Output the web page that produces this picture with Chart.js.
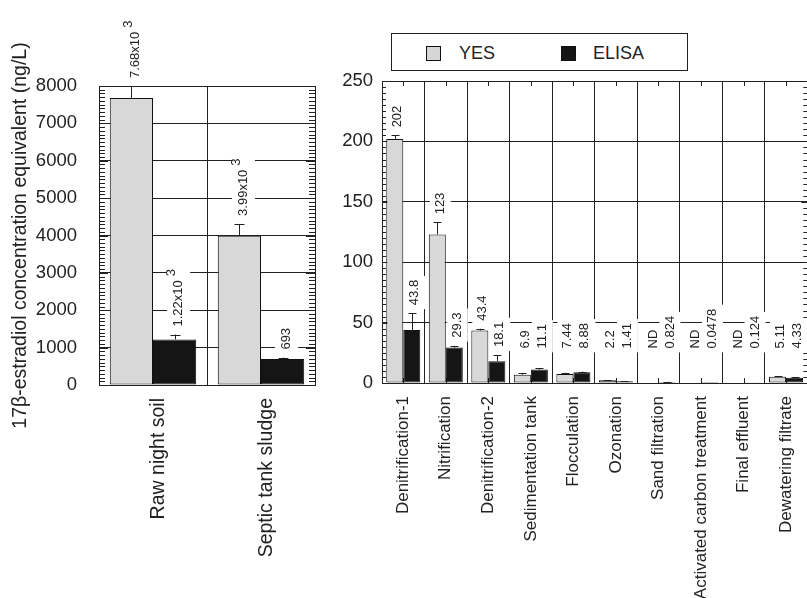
<!DOCTYPE html>
<html>
<head>
<meta charset="utf-8">
<script src="https://cdn.jsdelivr.net/npm/chart.js@4.4.1/dist/chart.umd.min.js"></script>
<style>
html,body{margin:0;padding:0;background:#fff;overflow:hidden;width:807px;height:598px;position:relative;}
#cl{position:absolute;left:0;top:0;}
#cr{position:absolute;left:330px;top:0;}
#legend{position:absolute;left:391px;top:33px;width:297px;height:38px;border:1.5px solid #222;box-sizing:border-box;font-family:"Liberation Sans",Arial,sans-serif;font-size:18px;color:#222;background:#fff;}
#legend .sw{position:absolute;top:12px;width:15px;height:15px;border:1px solid #111;box-sizing:border-box;}
#legend .lt{position:absolute;top:8px;line-height:22px;}
</style>
</head>
<body>
<canvas id="cl" width="330" height="598"></canvas>
<canvas id="cr" width="490" height="598"></canvas>
<div id="legend">
  <span class="sw" style="left:34px;background:#d6d6d6"></span><span class="lt" style="left:67px">YES</span>
  <span class="sw" style="left:169px;background:#151515"></span><span class="lt" style="left:201px">ELISA</span>
</div>
<script>
// ---------- data ----------
const seriesNames = ["YES", "ELISA"];

const leftCategories = ["Raw night soil", "Septic tank sludge"];
const leftYes = [7680, 3990];
const leftElisa = [1220, 693];
const leftYesErr = [320, 320];
const leftElisaErr = [130, 40];
const leftYesLabels = ["7.68x10^3", "3.99x10^3"];
const leftElisaLabels = ["1.22x10^3", "693"];
const leftYMax = 8000;
const leftYStep = 1000;

const rightCategories = ["Denitrification-1", "Nitrification", "Denitrification-2", "Sedimentation tank",
  "Flocculation", "Ozonation", "Sand filtration", "Activated carbon treatment", "Final effluent", "Dewatering filtrate"];
const rightYes = [202, 123, 43.4, 6.9, 7.44, 2.2, null, null, null, 5.11];
const rightElisa = [43.8, 29.3, 18.1, 11.1, 8.88, 1.41, 0.824, 0.0478, 0.124, 4.33];
const rightYesErr = [3, 10, 1.5, 1, 1, 0.3, 0, 0, 0, 0.6];
const rightElisaErr = [14, 1.5, 5, 1, 0.6, 0.2, 0.1, 0, 0.05, 0.5];
const rightYesLabels = ["202", "123", "43.4", "6.9", "7.44", "2.2", "ND", "ND", "ND", "5.11"];
const rightElisaLabels = ["43.8", "29.3", "18.1", "11.1", "8.88", "1.41", "0.824", "0.0478", "0.124", "4.33"];
const rightYMax = 250;
const rightYStep = 50;

// ---------- styles ----------
const FONT = '"Liberation Sans", Arial, sans-serif';
Chart.defaults.font.family = FONT;
Chart.defaults.color = '#222';
const INK = '#222';
const YES_FILL = '#d8d8d8';
const ELISA_FILL = '#151515';

const annotPlugin = {
  id: 'annot',
  beforeDatasetsDraw(chart, args, o) {
    const {ctx, chartArea: a, scales: {x, y}} = chart;
    ctx.save();
    ctx.strokeStyle = INK; ctx.lineWidth = 1;
    ctx.beginPath();
    const n = Math.round((y.max - y.min) / o.minorStep);
    for (let k = 0; k <= n; k++) {
      const v = y.min + k * o.minorStep;
      const py = Math.round(y.getPixelForValue(v)) + 0.5;
      const r = v / o.majorStep;
      const major = Math.abs(r - Math.round(r)) < 1e-6;
      const len = major ? o.majorLen : o.minorLen;
      ctx.moveTo(a.left, py); ctx.lineTo(a.left + len, py);
      ctx.moveTo(a.right, py); ctx.lineTo(a.right - len, py);
    }
    if (o.centerTicks) {
      for (let i = 0; i < x.ticks.length; i++) {
        const px = Math.round(x.getPixelForTick(i)) + 0.5;
        ctx.moveTo(px, a.top); ctx.lineTo(px, a.top + o.centerTicks);
        ctx.moveTo(px, a.bottom); ctx.lineTo(px, a.bottom - o.centerTicks);
      }
    }
    ctx.stroke();
    ctx.restore();
  },
  afterDatasetsDraw(chart, args, o) {
    const {ctx, scales: {y}} = chart;
    const items = [];
    chart.data.datasets.forEach((ds, di) => {
      const meta = chart.getDatasetMeta(di);
      meta.data.forEach((el, j) => {
        const v = ds.data[j];
        const err = (ds.errors && v != null) ? ds.errors[j] : 0;
        const topVal = (v == null ? 0 : v) + err;
        const ty = y.getPixelForValue(topVal);
        const fy = y.getPixelForValue(o.labelFloor);
        const anchor = Math.min(ty, fy);
        items.push({x: el.x, v, err, ty, base: anchor - o.labelGap, text: ds.valueLabels ? ds.valueLabels[j] : ''});
      });
    });
    ctx.save();
    const mainFont = o.labelFont + 'px ' + FONT;
    items.forEach(it => {
      const parts = it.text.split('^');
      it.main = parts[0]; it.sup = parts[1] || '';
      ctx.font = mainFont;
      it.len = ctx.measureText(it.main).width;
      if (it.sup) it.len += 4 + ctx.measureText(it.sup).width;
    });
    // white boxes behind the value labels
    ctx.fillStyle = '#fff';
    items.forEach(it => {
      if (!it.text) return;
      const cx = it.x + o.labelDx;
      const h = o.labelFont;
      ctx.fillRect(cx - h / 2 - o.padAcross, it.base - it.len - o.padAlong, h + 2 * o.padAcross, it.len + 2 * o.padAlong);
    });
    // error bars
    ctx.strokeStyle = INK; ctx.lineWidth = 1;
    ctx.beginPath();
    items.forEach(it => {
      if (it.v == null || !it.err) return;
      const px = Math.round(it.x) + 0.5;
      const y0 = y.getPixelForValue(it.v);
      ctx.moveTo(px, y0); ctx.lineTo(px, it.ty);
      ctx.moveTo(px - o.capHalf, Math.round(it.ty) + 0.5); ctx.lineTo(px + o.capHalf, Math.round(it.ty) + 0.5);
    });
    ctx.stroke();
    // text
    ctx.fillStyle = INK;
    items.forEach(it => {
      if (!it.text) return;
      ctx.save();
      ctx.translate(it.x + o.labelDx, it.base);
      ctx.rotate(-Math.PI / 2);
      ctx.textAlign = 'left'; ctx.textBaseline = 'middle';
      ctx.font = mainFont;
      ctx.fillText(it.main, 0, 0);
      if (it.sup) {
        const mw = ctx.measureText(it.main).width;
        ctx.fillText(it.sup, mw + 4, -7);
      }
      ctx.restore();
    });
    ctx.restore();
  }
};

function barDatasets(yes, elisa, yesErr, elisaErr, yesLab, elisaLab) {
  const common = {borderColor: '#111', borderWidth: 1, borderSkipped: false, categoryPercentage: 0.8, barPercentage: 1.0};
  return [
    Object.assign({label: seriesNames[0], data: yes, backgroundColor: YES_FILL, errors: yesErr, valueLabels: yesLab}, common),
    Object.assign({label: seriesNames[1], data: elisa, backgroundColor: ELISA_FILL, errors: elisaErr, valueLabels: elisaLab}, common)
  ];
}

// ---------- left chart ----------
new Chart(document.getElementById('cl'), {
  type: 'bar',
  data: {labels: leftCategories, datasets: barDatasets(leftYes, leftElisa, leftYesErr, leftElisaErr, leftYesLabels, leftElisaLabels)},
  plugins: [annotPlugin],
  options: {
    responsive: false, animation: false, devicePixelRatio: 1,
    layout: {padding: {top: 86, right: 15, left: 0, bottom: 0}},
    plugins: {
      legend: {display: false}, tooltip: {enabled: false},
      annot: {minorStep: 100, majorStep: 1000, minorLen: 6, majorLen: 9, centerTicks: 0,
              labelFloor: 0, labelGap: 8, labelDx: 4, labelFont: 13, padAcross: 5, padAlong: 4, capHalf: 5}
    },
    scales: {
      x: {
        offset: true,
        grid: {offset: true, drawTicks: false, color: INK, lineWidth: 1},
        border: {color: INK, width: 1},
        ticks: {autoSkip: false, minRotation: 90, maxRotation: 90, padding: 13, labelOffset: 6, font: {size: 19.5}, color: INK},
        afterFit(s) { s.height = 213; }
      },
      y: {
        min: 0, max: leftYMax,
        ticks: {stepSize: leftYStep, padding: 22, font: {size: 18.5}, color: INK, format: {useGrouping: false}},
        grid: {drawTicks: false, color: INK, lineWidth: 1},
        border: {color: INK, width: 1},
        title: {display: true, text: '17β-estradiol concentration equivalent (ng/L)', font: {size: 19.5}, color: INK, padding: {top: 9, bottom: 0}},
        afterFit(s) { s.width = 99; }
      }
    }
  }
});

// ---------- right chart ----------
new Chart(document.getElementById('cr'), {
  type: 'bar',
  data: {labels: rightCategories, datasets: barDatasets(rightYes, rightElisa, rightYesErr, rightElisaErr, rightYesLabels, rightElisaLabels)},
  plugins: [annotPlugin],
  options: {
    responsive: false, animation: false, devicePixelRatio: 1,
    layout: {padding: {top: 81, right: 11, left: 0, bottom: 0}},
    plugins: {
      legend: {display: false}, tooltip: {enabled: false},
      annot: {minorStep: 5, majorStep: 50, minorLen: 4, majorLen: 6, centerTicks: 5,
              labelFloor: 22, labelGap: 8, labelDx: 3, labelFont: 13, padAcross: 4, padAlong: 4, capHalf: 4}
    },
    scales: {
      x: {
        offset: true,
        grid: {offset: true, drawTicks: false, color: INK, lineWidth: 1},
        border: {color: INK, width: 1},
        ticks: {autoSkip: false, minRotation: 90, maxRotation: 90, padding: 13, labelOffset: 0, font: {size: 17}, color: INK},
        afterFit(s) { s.height = 215; }
      },
      y: {
        min: 0, max: rightYMax,
        ticks: {stepSize: rightYStep, padding: 9, font: {size: 18.5}, color: INK, format: {useGrouping: false}},
        grid: {drawTicks: false, color: INK, lineWidth: 1},
        border: {color: INK, width: 1},
        afterFit(s) { s.width = 52; }
      }
    }
  }
});
</script>
</body>
</html>
